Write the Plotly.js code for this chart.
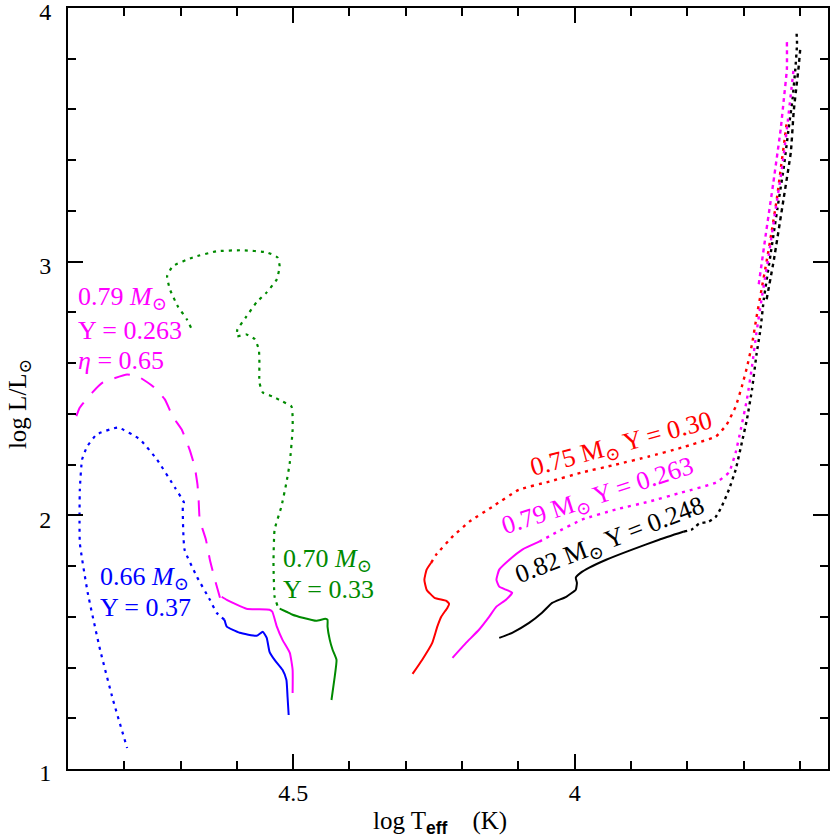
<!DOCTYPE html>
<html>
<head>
<meta charset="utf-8">
<script src="https://cdn.plot.ly/plotly-3.0.1.min.js"></script>
<style>html,body{margin:0;padding:0;background:#fff;}#chart{width:830px;height:840px;}</style>
</head>
<body>
<div id="chart"></div>
<script>
// ---- axis ticks ----
const xTickVals = [4.5, 4];
const xTickText = ["4.5", "4"];
const yTickVals = [1, 2, 3, 4];
const yTickText = ["1", "2", "3", "4"];

// ---- 0.66 Msun, Y = 0.37 (blue, HB) ----
const blueSolidT = [4.508, 4.510, 4.512, 4.519, 4.533, 4.542, 4.547, 4.554, 4.565, 4.595, 4.618, 4.622];
const blueSolidL = [1.213, 1.284, 1.351, 1.391, 1.430, 1.462, 1.517, 1.541, 1.525, 1.537, 1.561, 1.588];
const blueDotT = [4.622, 4.636, 4.648, 4.671, 4.693, 4.696, 4.694, 4.710, 4.742, 4.772, 4.811, 4.849, 4.866, 4.875, 4.879, 4.879, 4.865, 4.843, 4.820, 4.795];
const blueDotL = [1.588, 1.616, 1.667, 1.758, 1.865, 2.034, 2.050, 2.109, 2.220, 2.299, 2.346, 2.319, 2.271, 2.220, 2.101, 1.892, 1.695, 1.470, 1.272, 1.083];

// ---- 0.79 Msun, Y = 0.263, eta = 0.65 (magenta, HB) ----
const magHBSolidT = [4.501, 4.501, 4.506, 4.519, 4.529, 4.537, 4.542, 4.583, 4.618, 4.627];
const magHBSolidL = [1.300, 1.391, 1.458, 1.509, 1.561, 1.620, 1.628, 1.632, 1.667, 1.679];
const magHBDashT = [4.630, 4.639, 4.648, 4.655, 4.666, 4.668, 4.670, 4.675, 4.684, 4.698, 4.714, 4.728, 4.749, 4.776, 4.795, 4.838, 4.857, 4.879, 4.886];
const magHBDashL = [1.675, 1.746, 1.825, 1.904, 1.983, 2.062, 2.121, 2.192, 2.259, 2.338, 2.390, 2.457, 2.508, 2.548, 2.555, 2.524, 2.484, 2.425, 2.386];

// ---- 0.70 Msun, Y = 0.33 (green, HB) ----
const greenSolidT = [4.432, 4.427, 4.423, 4.430, 4.435, 4.439, 4.439, 4.443, 4.459, 4.483, 4.501, 4.512, 4.524];
const greenSolidL = [1.272, 1.351, 1.430, 1.470, 1.509, 1.561, 1.588, 1.592, 1.584, 1.596, 1.608, 1.620, 1.632];
const greenDotT = [4.528, 4.533, 4.535, 4.533, 4.521, 4.512, 4.506, 4.501, 4.501, 4.503, 4.519, 4.537, 4.554, 4.560, 4.560, 4.561, 4.568, 4.583, 4.600, 4.599, 4.583, 4.565, 4.547, 4.529, 4.524, 4.528, 4.547, 4.590, 4.636, 4.678, 4.714, 4.724, 4.719, 4.705, 4.689, 4.680];
const greenDotL = [1.644, 1.679, 1.813, 1.944, 2.034, 2.129, 2.208, 2.338, 2.390, 2.429, 2.449, 2.469, 2.484, 2.524, 2.603, 2.654, 2.694, 2.713, 2.706, 2.733, 2.784, 2.840, 2.879, 2.931, 2.982, 3.017, 3.037, 3.045, 3.041, 3.017, 2.982, 2.942, 2.891, 2.824, 2.773, 2.733];

// ---- 0.75 Msun, Y = 0.30 (red, RGB) ----
const redSolidT = [4.288, 4.271, 4.253, 4.244, 4.237, 4.226, 4.223, 4.228, 4.249, 4.263, 4.267, 4.263, 4.255];
const redSolidL = [1.375, 1.430, 1.497, 1.561, 1.600, 1.636, 1.651, 1.663, 1.675, 1.707, 1.746, 1.786, 1.813];
const redDotT = [4.255, 4.246, 4.217, 4.187, 4.146, 4.099, 4.045, 3.987, 3.927, 3.868, 3.810, 3.749, 3.730, 3.714, 3.703, 3.694, 3.685, 3.677, 3.668, 3.659, 3.650, 3.641, 3.634, 3.627, 3.623];
const redDotL = [1.813, 1.845, 1.916, 1.975, 2.034, 2.101, 2.133, 2.169, 2.200, 2.232, 2.267, 2.311, 2.358, 2.429, 2.508, 2.583, 2.674, 2.781, 2.891, 3.002, 3.120, 3.246, 3.365, 3.483, 3.554];

// ---- 0.79 Msun, Y = 0.263 (magenta, RGB) ----
const magSolidT = [4.217, 4.193, 4.170, 4.152, 4.139, 4.122, 4.111, 4.122, 4.134, 4.139, 4.134, 4.116, 4.093, 4.063];
const magSolidL = [1.438, 1.497, 1.549, 1.600, 1.640, 1.667, 1.695, 1.707, 1.719, 1.746, 1.786, 1.825, 1.865, 1.896];
const magDotT = [4.063, 4.033, 3.987, 3.927, 3.868, 3.810, 3.749, 3.726, 3.714, 3.705, 3.694, 3.685, 3.677, 3.668, 3.655, 3.643, 3.632, 3.623, 3.616, 3.611];
const magDotL = [1.896, 1.932, 1.983, 2.023, 2.054, 2.090, 2.129, 2.169, 2.248, 2.338, 2.457, 2.587, 2.721, 2.852, 3.029, 3.207, 3.365, 3.523, 3.661, 3.760];
const magTipT = [3.673, 3.661, 3.647, 3.634, 3.629, 3.623, 3.623];
const magTipL = [2.911, 3.100, 3.313, 3.523, 3.629, 3.760, 3.866];

// ---- 0.82 Msun, Y = 0.248 (black, RGB) ----
const blkSolidT = [4.134, 4.111, 4.081, 4.058, 4.040, 4.015, 3.998, 3.996, 3.998, 3.989, 3.974, 3.944, 3.898, 3.850, 3.806];
const blkSolidL = [1.517, 1.537, 1.576, 1.616, 1.655, 1.679, 1.707, 1.734, 1.754, 1.774, 1.794, 1.825, 1.865, 1.904, 1.936];
const blkDotT = [3.806, 3.792, 3.779, 3.762, 3.749, 3.739, 3.726, 3.714, 3.703, 3.694, 3.685, 3.677, 3.670, 3.664, 3.652, 3.640, 3.629, 3.620, 3.613, 3.608, 3.605, 3.606];
const blkDotL = [1.936, 1.944, 1.967, 1.975, 1.995, 2.034, 2.101, 2.180, 2.287, 2.378, 2.496, 2.634, 2.733, 2.852, 3.029, 3.207, 3.365, 3.523, 3.641, 3.760, 3.859, 3.910];
const blkTipT = [3.659, 3.646, 3.629, 3.616, 3.611, 3.606, 3.602, 3.599];
const blkTipL = [2.852, 3.009, 3.246, 3.432, 3.590, 3.692, 3.771, 3.847];

const BLUE = "#0000ff", MAG = "#ff00ff", GREEN = "#008a00", RED = "#ff0000", BLK = "#000000";
const DOT = "3px,5px";

function tr(x, y, color, dash, width) {
  return {x: x, y: y, type: "scatter", mode: "lines", hoverinfo: "skip",
          line: {color: color, width: width || 2, dash: dash || "solid", shape: "spline", smoothing: 0.4}};
}

const data = [
  tr(blueSolidT, blueSolidL, BLUE),
  tr(blueDotT, blueDotL, BLUE, DOT, 2.2),
  tr(magHBSolidT, magHBSolidL, MAG),
  tr(magHBDashT, magHBDashL, MAG, "16px,12px", 2),
  tr(greenSolidT, greenSolidL, GREEN),
  tr(greenDotT, greenDotL, GREEN, DOT, 2.2),
  tr(redSolidT, redSolidL, RED),
  tr(redDotT, redDotL, RED, DOT, 2.4),
  tr(blkSolidT, blkSolidL, BLK),
  tr(blkDotT, blkDotL, BLK, "3px,4px", 2.4),
  tr(blkTipT, blkTipL, BLK, "4px,4px", 2.4),
  tr(magSolidT, magSolidL, MAG),
  tr(magDotT, magDotL, MAG, DOT, 2.4),
  tr(magTipT, magTipL, MAG, "4px,4px", 2.4)
];

const SERIF = "Liberation Serif, DejaVu Serif, serif";
const MS = "<i>M</i><sub>⊙</sub>";
function lab(text, x, y, color, opts) {
  return Object.assign({text: text, x: x, y: y, xref: "x", yref: "y", showarrow: false,
    xanchor: "left", yanchor: "middle", font: {family: SERIF, size: 26, color: color}}, opts || {});
}

const annotations = [
  lab("0.79 " + MS, 4.886, 2.855, MAG),
  lab("Y = 0.263", 4.886, 2.730, MAG),
  lab("<i>η</i> = 0.65", 4.886, 2.610, MAG),
  lab("0.66 " + MS, 4.847, 1.753, BLUE),
  lab("Y = 0.37", 4.847, 1.637, BLUE),
  lab("0.70 " + MS, 4.522, 1.822, GREEN),
  lab("Y = 0.33", 4.522, 1.709, GREEN),
  lab("0.75 M<sub>⊙</sub> Y = 0.30", 3.916, 2.277, RED, {xanchor: "center", textangle: -15}),
  lab("0.79 M<sub>⊙</sub> Y = 0.263", 3.959, 2.072, MAG, {xanchor: "center", textangle: -18}),
  lab("0.82 M<sub>⊙</sub> Y = 0.248", 3.937, 1.899, BLK, {xanchor: "center", textangle: -21}),
  {text: "log T<sub><span style=\"font-family:Liberation Sans;font-weight:bold\">eff</span></sub>&nbsp;&nbsp;&nbsp;&nbsp;(K)",
   xref: "paper", yref: "paper", x: 0.49, y: -0.07, xanchor: "center", yanchor: "middle",
   showarrow: false, font: {family: SERIF, size: 25, color: "#000"}},
  {text: "log L/L<sub>⊙</sub>", xref: "paper", yref: "paper", x: -0.064, y: 0.48,
   xanchor: "center", yanchor: "middle", textangle: -90,
   showarrow: false, font: {family: SERIF, size: 25, color: "#000"}}
];

const axisCommon = {
  showgrid: false, zeroline: false, showline: true, linewidth: 2, linecolor: "#000",
  mirror: "allticks", ticks: "inside", ticklen: 15, tickwidth: 2, tickcolor: "#000",
  tickmode: "array", tickfont: {family: SERIF, size: 24, color: "#000"},
  ticklabeloverflow: "allow"
};

const layout = {
  width: 830, height: 840,
  margin: {l: 68, r: 2, t: 8, b: 71, pad: 0},
  paper_bgcolor: "#fff", plot_bgcolor: "#fff",
  showlegend: false,
  xaxis: Object.assign({}, axisCommon, {
    range: [4.9, 3.55], tickvals: xTickVals, ticktext: xTickText, ticklabelstandoff: 1,
    minor: {tickmode: "linear", tick0: 0, dtick: 0.1, ticks: "inside", ticklen: 8, tickwidth: 2, tickcolor: "#000", showgrid: false}
  }),
  yaxis: Object.assign({}, axisCommon, {
    range: [1, 4], tickvals: yTickVals, ticktext: yTickText, ticklabelstandoff: 10, ticklabelshift: 4,
    minor: {tickmode: "linear", tick0: 0, dtick: 0.2, ticks: "inside", ticklen: 8, tickwidth: 2, tickcolor: "#000", showgrid: false}
  }),
  annotations: annotations
};

Plotly.newPlot("chart", data, layout, {staticPlot: true, displayModeBar: false});
</script>
</body>
</html>
